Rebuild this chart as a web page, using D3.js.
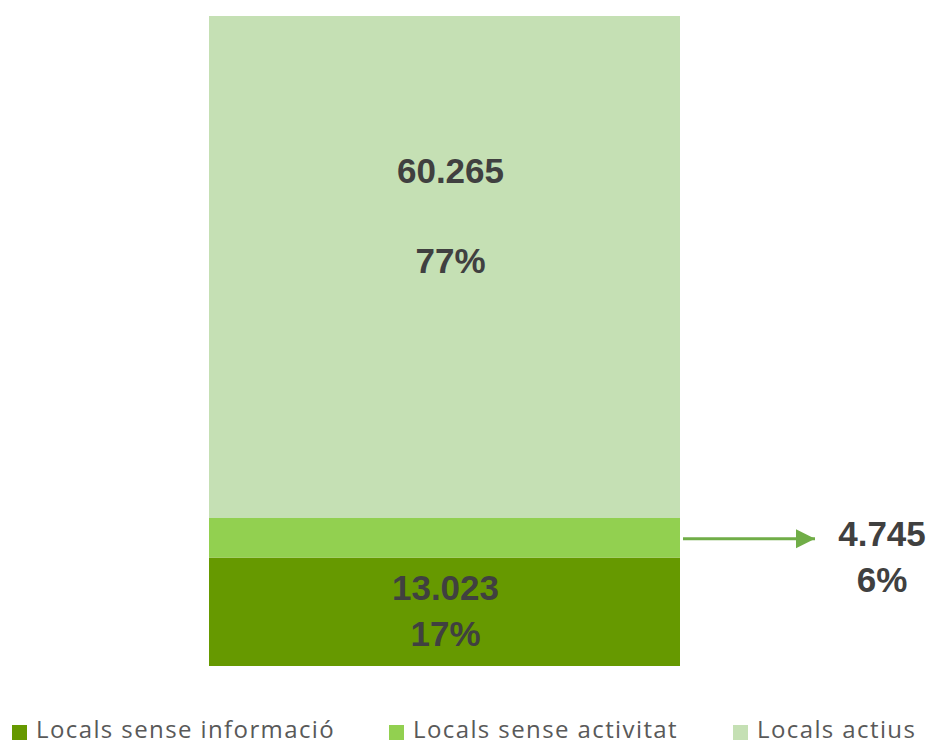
<!DOCTYPE html>
<html>
<head>
<meta charset="utf-8">
<script src="https://cdn.jsdelivr.net/npm/d3@7"></script>
<style>
  body { margin: 0; background: #fff; }
  svg { display: block; }
</style>
</head>
<body>
<svg></svg>
<script>
const series = ['Locals sense informació', 'Locals sense activitat', 'Locals actius']
const values = [13023, 4745, 60265]
const labels = ['13.023', '4.745', '60.265']
const percents = ['17%', '6%', '77%']
const colors = ['#669900', '#92d050', '#c5e0b4']

const [svgWidth, svgHeight] = [933, 744]
const svg = d3.select('svg').attr('width', svgWidth).attr('height', svgHeight)

const total = d3.sum(values)
const stacked = values.map((v, i) => ({
  name: series[i],
  value: v,
  label: labels[i],
  pct: percents[i],
  color: colors[i],
  y0: d3.sum(values.slice(0, i)),
  y1: d3.sum(values.slice(0, i + 1))
}))

const x = d3.scaleBand().domain(['total']).range([209, 680]).padding(0)
const y = d3.scaleLinear().domain([0, total]).range([666, 16])

svg.selectAll('rect.seg').data(stacked).enter().append('rect')
  .attr('class', 'seg')
  .attr('x', x('total'))
  .attr('width', x.bandwidth())
  .attr('y', d => y(d.y1))
  .attr('height', d => y(d.y0) - y(d.y1))
  .style('fill', d => d.color)

const font = '"Liberation Sans", Arial, sans-serif'
const cx = x('total') + x.bandwidth() / 2

// bottom segment label
const segBottom = stacked[0]
const bMid = (y(segBottom.y0) + y(segBottom.y1)) / 2
svg.append('text').attr('x', cx + 1).attr('y', bMid - 12).text(segBottom.label)
svg.append('text').attr('x', cx + 1).attr('y', bMid + 34).text(segBottom.pct)

// top segment label
const segTop = stacked[2]
svg.append('text').attr('x', cx + 6).attr('y', y(segTop.y1) + 167).text(segTop.label)
svg.append('text').attr('x', cx + 6).attr('y', y(segTop.y1) + 257).text(segTop.pct)

// middle segment: arrow + label outside
const segMid = stacked[1]
const mMid = (y(segMid.y0) + y(segMid.y1)) / 2
svg.append('defs').append('marker')
  .attr('id', 'arrow')
  .attr('viewBox', '0 0 10 10')
  .attr('refX', 10).attr('refY', 5)
  .attr('markerWidth', 6.5).attr('markerHeight', 6.5)
  .attr('markerUnits', 'strokeWidth')
  .attr('orient', 'auto')
  .append('path').attr('d', 'M0,0 L10,5 L0,10 Z').style('fill', '#70ad47')

svg.append('line')
  .attr('x1', x('total') + x.bandwidth() + 3).attr('x2', 815)
  .attr('y1', mMid + 1).attr('y2', mMid + 1)
  .style('stroke', '#70ad47').style('stroke-width', 3)
  .attr('marker-end', 'url(#arrow)')

svg.append('text').attr('x', 882).attr('y', mMid + 8).text(segMid.label)
svg.append('text').attr('x', 882).attr('y', mMid + 54).text(segMid.pct)

svg.selectAll('text')
  .attr('text-anchor', 'middle')
  .style('font-family', font)
  .style('font-weight', 'bold')
  .style('font-size', '35px')
  .style('fill', '#404040')

// legend
const legendX = [12, 389, 733]
const legend = svg.selectAll('g.legend').data(stacked).enter().append('g')
  .attr('class', 'legend')
  .attr('transform', (d, i) => `translate(${legendX[i]}, 731)`)

legend.append('rect')
  .attr('x', 0).attr('y', -6).attr('width', 15).attr('height', 15)
  .style('fill', d => d.color)

legend.append('text')
  .attr('x', 24).attr('y', 7)
  .text(d => d.name)
  .style('font-family', '"Open Sans", sans-serif')
  .style('font-size', '24px')
  .style('letter-spacing', '1.4px')
  .style('fill', '#595959')
</script>
</body>
</html>
